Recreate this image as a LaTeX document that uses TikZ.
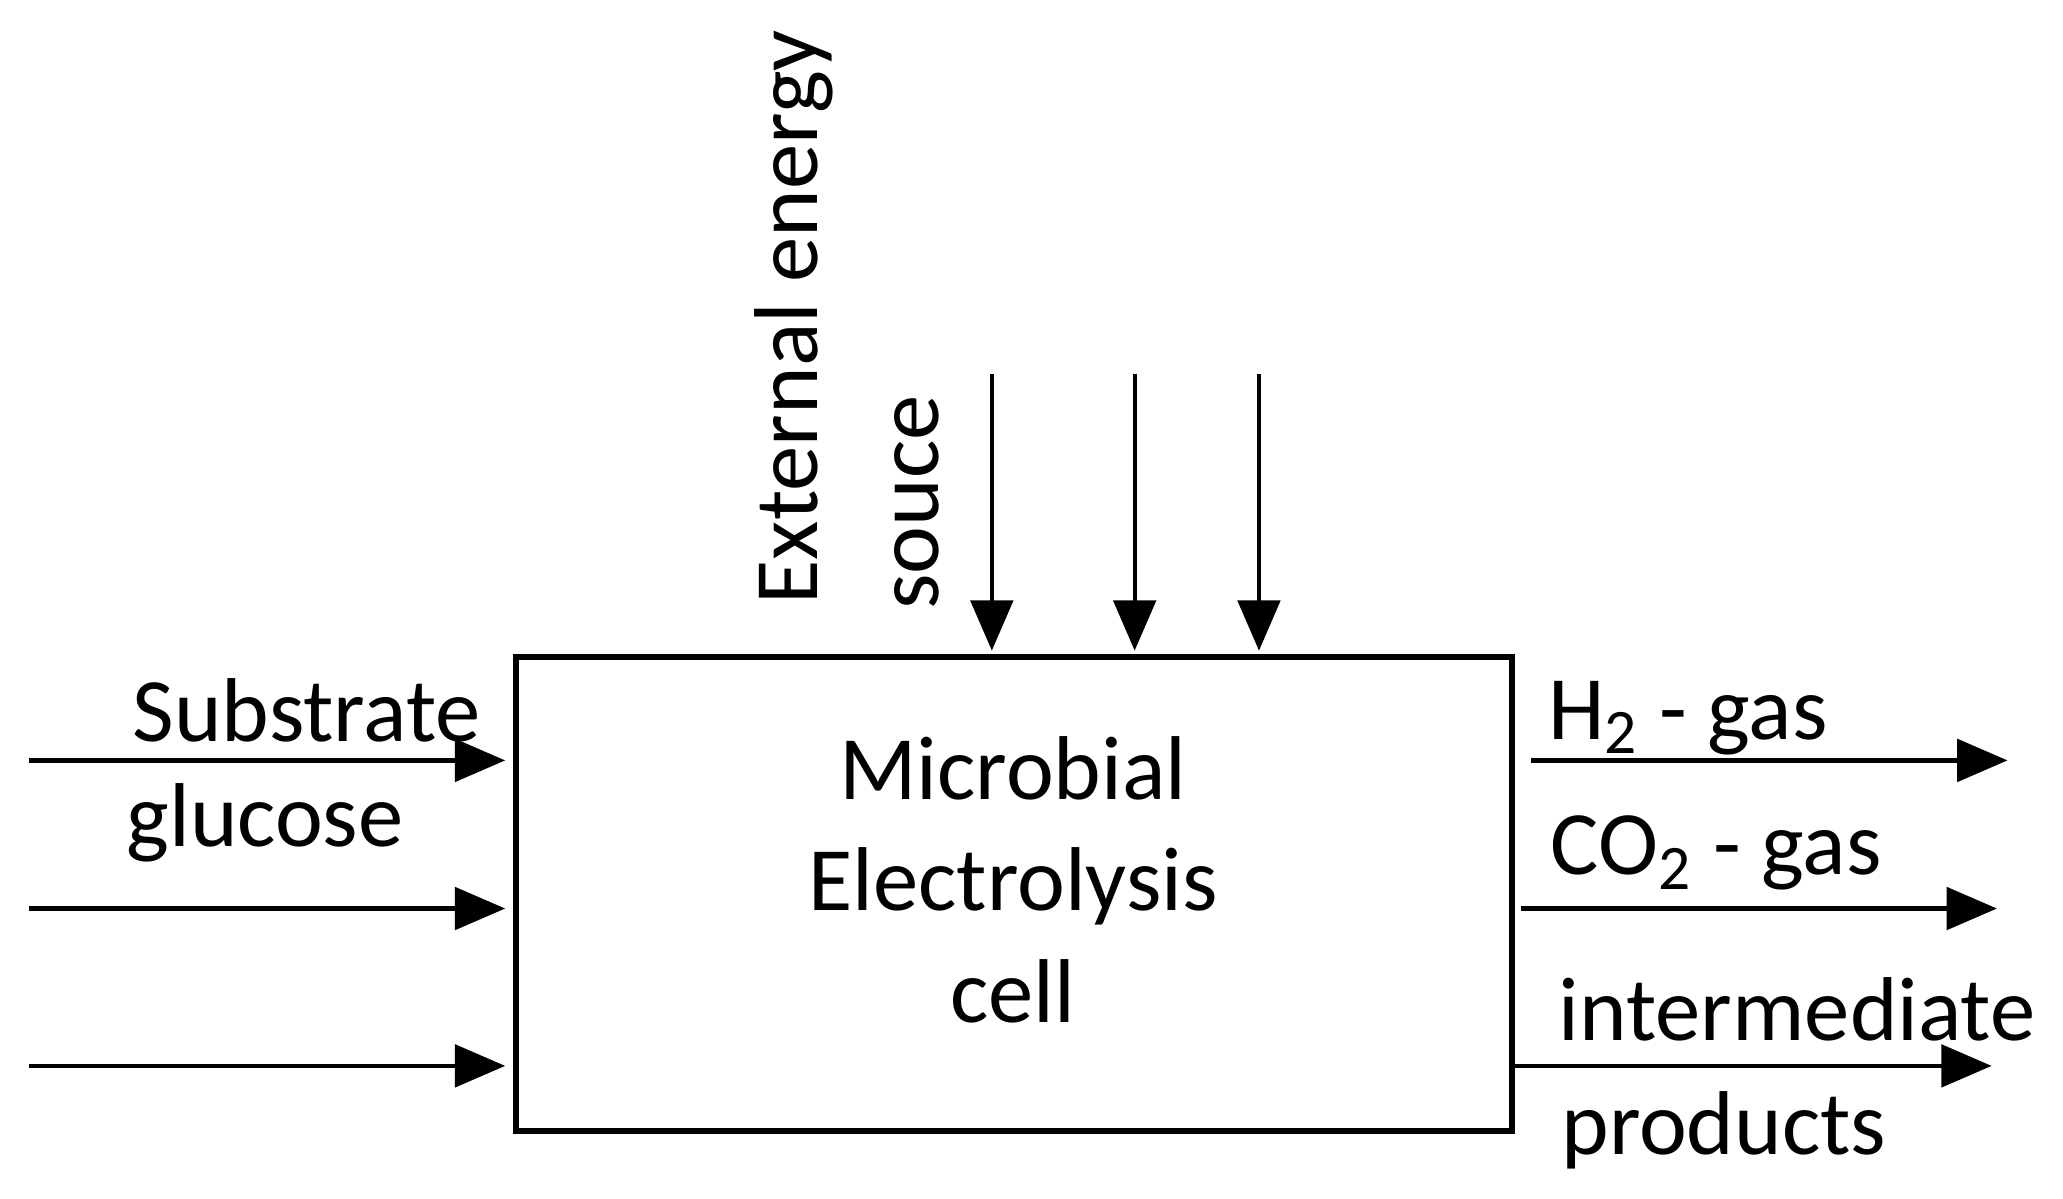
\documentclass[tikz,border=0pt]{standalone}
\usepackage{fontspec}
\setmainfont{Carlito}
\usetikzlibrary{arrows.meta}
\begin{document}
\begin{tikzpicture}[x=1cm,y=1cm,
  flow/.style={line width=0.9pt,-{Triangle[length=0.38cm,width=0.32cm]}},
  lbl/.style={font=\fontsize{19.5}{24}\selectfont,inner sep=0pt}]
\useasboundingbox (0,0) rectangle (15.6,9.06);
\draw[line width=1.3pt] (3.90,0.51) rectangle (11.43,4.09);
\node[lbl,align=center] (mec) at (7.66,2.41) {Microbial\\Electrolysis\\cell};
% inputs
\foreach \y/\n in {3.31/a,2.19/b,1.00/c}{
  \coordinate (in\n) at (0.22,\y);
  \coordinate (box\n) at (3.82,\y);
  \draw[flow] (in\n) -- (box\n);
}
\node[lbl] (sub) at (2.32,3.69) {Substrate};
\node[lbl,anchor=west] (glu) at (0.95,2.84) {glucose};
% energy
\foreach \x/\n in {7.50/a,8.58/b,9.52/c}{
  \coordinate (e\n) at (\x,6.23);
  \coordinate (t\n) at (\x,4.14);
  \draw[flow] (e\n) -- (t\n);
}
\node[lbl,rotate=90] (ext) at (6.00,6.66) {External energy};
\node[lbl,rotate=90] (src) at (6.93,5.26) {souce};
% outputs
\coordinate (oa) at (11.58,3.31); \coordinate (pa) at (15.18,3.31);
\coordinate (ob) at (11.50,2.19); \coordinate (pb) at (15.10,2.19);
\coordinate (oc) at (11.43,1.00); \coordinate (pc) at (15.06,1.00);
\draw[flow] (oa) -- (pa);
\draw[flow] (ob) -- (pb);
\draw[flow] (oc) -- (pc);
\node[lbl,anchor=west] (h2) at (11.70,3.63) {H\textsubscript{2} - gas};
\node[lbl,anchor=west] (co2) at (11.72,2.61) {CO\textsubscript{2} - gas};
\node[lbl,anchor=west] (inter) at (11.78,1.43) {intermediate};
\node[lbl,anchor=west] (prod) at (11.80,0.51) {products};
\end{tikzpicture}
\end{document}
